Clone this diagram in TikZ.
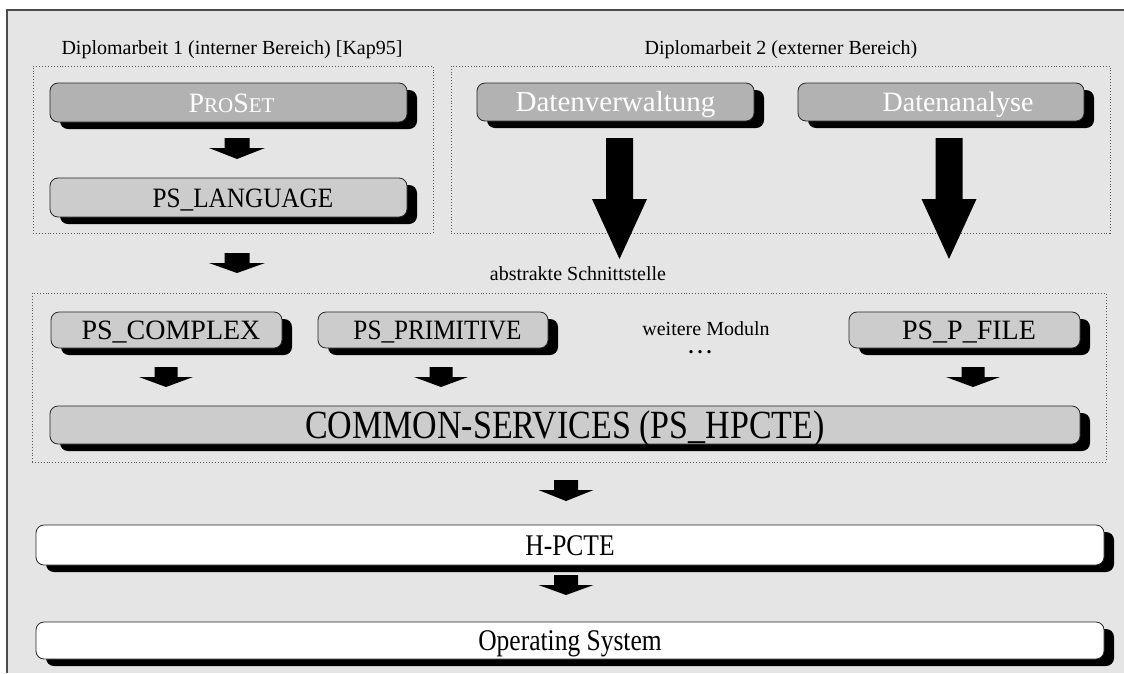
\documentclass[tikz,border=0pt]{standalone}
\usepackage{fontspec}
\setmainfont{Liberation Serif}
\newfontfamily\condfont[FakeStretch=0.85]{Liberation Serif}
\newfontfamily\narrowfont[FakeStretch=0.9]{Liberation Serif}
\usetikzlibrary{shadows}
\definecolor{bg}{gray}{0.9}
\definecolor{darkfill}{gray}{0.7}
\definecolor{lightfill}{gray}{0.8}
\definecolor{framecol}{gray}{0.3}
\definecolor{dotcol}{gray}{0.35}
\newcommand\blkarrow[6]{%
  \fill[black] ({#1-#5},#2) -- ({#1+#5},#2) -- ({#1+#5},#3) -- ({#1+#6},#3) -- (#1,#4)
    -- ({#1-#6},#3) -- ({#1-#5},#3) -- cycle;}
\tikzset{
  modbox/.style={draw=black!85, line width=0.8pt, rounded corners=8pt, inner sep=0pt,
    text height=19pt, text depth=0pt, font=\fontsize{28}{30}\selectfont,
    general shadow={fill=black, shadow xshift=10pt, shadow yshift=-7pt}},
  darkbox/.style={modbox, fill=darkfill, text=white},
  lightbox/.style={modbox, fill=lightfill},
  whitebox/.style={modbox, fill=white, font=\condfont\fontsize{30}{32}\selectfont, text height=20pt},
  area/.style={draw=dotcol, dotted, line width=0.9pt, inner sep=0pt},
  lbl/.style={font=\fontsize{20}{22}\selectfont, anchor=base, inner sep=0pt},
}
\begin{document}
\begin{tikzpicture}[x=1pt,y=-1pt]
\useasboundingbox (0,0) rectangle (1124,673);
\fill[bg] (7,10) rectangle (1124,673);
\draw[framecol, line width=2pt] (6.5,673) -- (6.5,9.5) -- (1124,9.5);

% dotted areas
\node[area, minimum width=400pt, minimum height=167pt] (dip1) at (233,149.5) {};
\node[area, minimum width=659pt, minimum height=167pt] (dip2) at (780.5,149.5) {};
\node[area, minimum width=1074pt, minimum height=169pt] (mods) at (569,377.5) {};

% titles and labels
\node[lbl] (t1) at (232,54) {Diplomarbeit 1 (interner Bereich) [Kap95]};
\node[lbl] (t2) at (781,54) {Diplomarbeit 2 (externer Bereich)};
\node[lbl] (abs) at (578,280) {abstrakte Schnittstelle};
\node[lbl] (more) at (706,335) {weitere Moduln};
\node[lbl] (dots) at (700,353) {\textbf{.\hspace{4pt}.\hspace{4pt}.}};

% boxes
\node[darkbox, minimum width=357pt, minimum height=39pt] (proset) at (228.5,102.5)
  {\hspace*{6pt}P{\fontsize{21}{22}\selectfont RO}S{\fontsize{21}{22}\selectfont ET}};
\node[lightbox, minimum width=357pt, minimum height=39pt, font=\narrowfont\fontsize{28}{30}\selectfont]
  (lang) at (228.5,197.5) {\hspace*{29pt}PS\_LANGUAGE};
\node[darkbox, minimum width=277pt, minimum height=38pt, font=\fontsize{29}{31}\selectfont]
  (dverw) at (615.5,102) {Datenverwaltung};
\node[darkbox, minimum width=286pt, minimum height=38pt] (danal) at (941,102) {\hspace*{34pt}Datenanalyse};
\node[lightbox, minimum width=231pt, minimum height=36pt] (complex) at (166.5,330) {\hspace*{9pt}PS\_COMPLEX};
\node[lightbox, minimum width=230pt, minimum height=36pt, font=\narrowfont\fontsize{28}{30}\selectfont]
  (prim) at (433,330) {\hspace*{9pt}PS\_PRIMITIVE};
\node[lightbox, minimum width=231pt, minimum height=36pt] (pfile) at (964.5,330) {\hspace*{9pt}PS\_P\_FILE};
\node[lightbox, minimum width=1030pt, minimum height=38pt, text height=27pt,
  font=\condfont\fontsize{40}{42}\selectfont] (common) at (565,425) {COMMON-SERVICES (PS\_HPCTE)};
\node[whitebox, minimum width=1068pt, minimum height=40pt] (hpcte) at (570,545) {H-PCTE};
\node[whitebox, minimum width=1068pt, minimum height=37pt] (os) at (570,640.5) {Operating System};

% block arrows: x, top, head start, tip, half shaft, half head
\blkarrow{237}{138}{148}{159}{12.5}{28}
\blkarrow{237}{253}{263}{273}{12.5}{28}
\blkarrow{619.5}{138}{199}{259}{13.5}{27.5}
\blkarrow{949}{138}{199}{259}{13.5}{27.5}
\blkarrow{166}{367}{377}{387}{11.5}{27}
\blkarrow{441}{367}{377}{387}{11.5}{27}
\blkarrow{973}{367}{377}{387}{11.5}{27}
\blkarrow{566}{480}{490}{501}{12}{27.5}
\blkarrow{566}{575}{585}{595}{12}{27.5}
\end{tikzpicture}
\end{document}
